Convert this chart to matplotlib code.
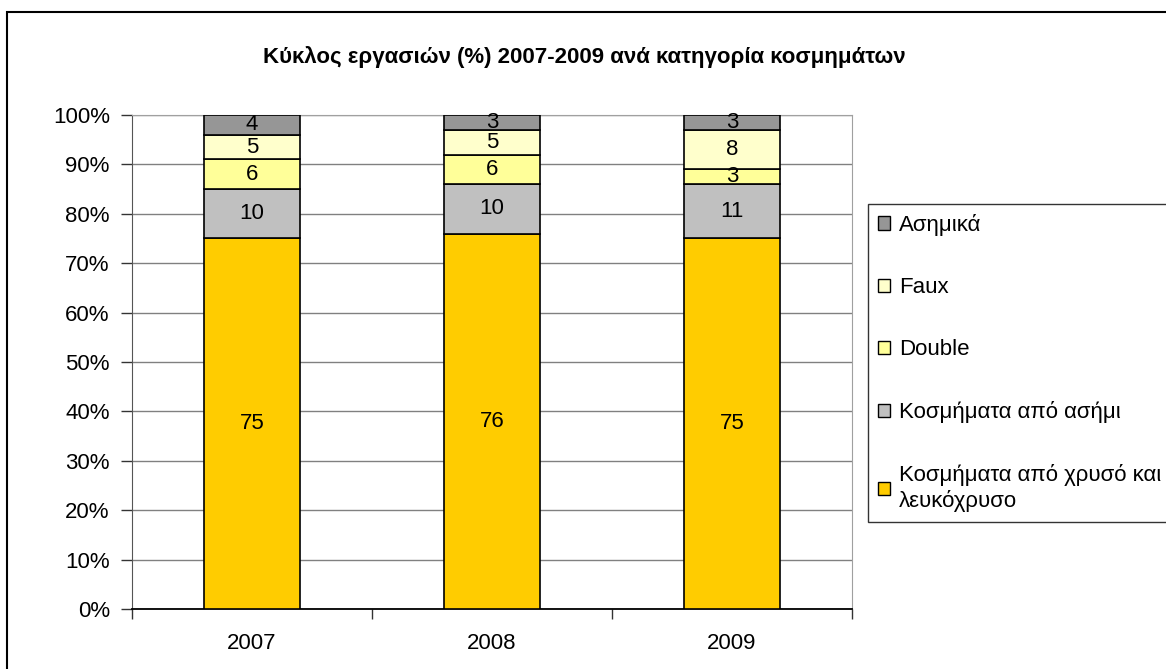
import numpy as np
import matplotlib.pyplot as plt
from matplotlib.patches import Rectangle, Patch

plt.rcParams['font.family'] = ['Liberation Sans', 'DejaVu Sans']

years = ["2007", "2008", "2009"]
series = ["Κοσμήματα από χρυσό και\nλευκόχρυσο", "Κοσμήματα από ασήμι",
          "Double", "Faux", "Ασημικά"]
gold = [75, 76, 75]
silver = [10, 10, 11]
double = [6, 6, 3]
faux = [5, 5, 8]
asimika = [4, 3, 3]
values = [gold, silver, double, faux, asimika]
colors = ["#FFCC00", "#C0C0C0", "#FFFF99", "#FFFFCC", "#969696"]
yticks = [0, 10, 20, 30, 40, 50, 60, 70, 80, 90, 100]

fig = plt.figure(figsize=(11.66, 6.69), dpi=100)
ax = fig.add_axes([132/1166, 60/669, 720/1166, 494/669])

x = np.arange(len(years))
bottom = np.zeros(len(years))
for vals, lbl, col in zip(values, series, colors):
    bars = ax.bar(x, vals, width=0.4, bottom=bottom, color=col,
                  edgecolor="black", linewidth=1.2, label=lbl, zorder=3)
    for b, v, b0 in zip(bars, vals, bottom):
        ax.text(b.get_x() + b.get_width()/2, b0 + v/2, str(v),
                ha="center", va="center", fontsize=16, zorder=4)
    bottom += np.array(vals)

ax.set_xlim(-0.5, 2.5)
ax.set_ylim(0, 100)
ax.set_yticks(yticks)
ax.set_yticklabels([f"{t}%" for t in yticks], fontsize=16)
ax.set_xticks(x)
ax.set_xticklabels(years, fontsize=16)
ax.tick_params(axis="x", length=0, pad=17)
ax.tick_params(axis="y", length=8, width=1, color="#333333", pad=8)
# category boundary ticks on x axis
ax.set_xticks([-0.5, 0.5, 1.5, 2.5], minor=True)
ax.tick_params(axis="x", which="minor", length=7, width=1, color="#333333")
ax.grid(axis="y", color="#808080", linewidth=1, zorder=0)
for s in ["top", "right"]:
    ax.spines[s].set_color("#a0a0a0")
ax.spines["left"].set_color("#555555")
ax.spines["bottom"].set_color("black")
ax.spines["bottom"].set_linewidth(1.3)

fig.text(584/1166, 1 - 57/669,
         "Κύκλος εργασιών (%) 2007-2009 ανά κατηγορία κοσμημάτων",
         ha="center", va="center", fontsize=16, fontweight="bold")

handles = [Patch(facecolor=c, edgecolor="black", linewidth=1) for c in colors]
leg = fig.legend(handles[::-1], series[::-1], loc="upper left",
                 bbox_to_anchor=(868/1166, 1 - 204/669), fontsize=16,
                 frameon=True, fancybox=False, edgecolor="black",
                 labelspacing=1.85, handlelength=0.55, handleheight=0.55,
                 handletextpad=0.4, borderpad=0.45, borderaxespad=0)
leg.get_frame().set_linewidth(1)

# outer chart frame
fig.patches.append(Rectangle((7/1166, -0.1), 1.2, 1 - 12/669 + 0.1,
                             transform=fig.transFigure, fill=False,
                             edgecolor="black", linewidth=1.5))

fig.savefig("out.png", dpi=100)
